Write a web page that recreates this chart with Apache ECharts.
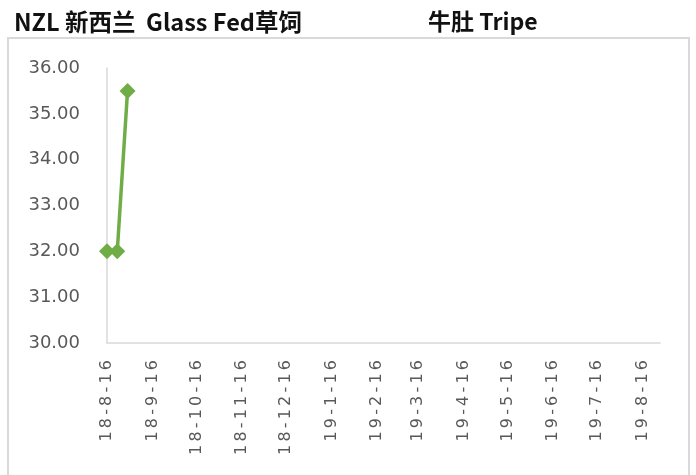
<!DOCTYPE html>
<html>
<head>
<meta charset="utf-8">
<script src="https://cdn.jsdelivr.net/npm/echarts@6/dist/echarts.min.js"></script>
<style>
  html, body { margin: 0; padding: 0; background: #fff; }
  #chart { width: 696px; height: 475px; }
</style>
</head>
<body>
<div id="chart"></div>
<script>
// 数据
var dates = ['2018-08-16', '2018-08-23', '2018-08-30'];
var prices = [32, 32, 35.5];
var tickLabels = ['18-8-16', '18-9-16', '18-10-16', '18-11-16', '18-12-16', '19-1-16',
  '19-2-16', '19-3-16', '19-4-16', '19-5-16', '19-6-16', '19-7-16', '19-8-16'];
var titleLeft = 'NZL 新西兰  Glass Fed草饲';
var titleRight = '牛肚 Tripe';

function toTime(s) {
  var p = s.split('-');
  return new Date(+p[0], +p[1] - 1, +p[2]).getTime();
}
function labelToTime(s) {
  var p = s.split('-');
  return new Date(2000 + +p[0], +p[1] - 1, +p[2]).getTime();
}

var tickTimes = tickLabels.map(labelToTime);
var seriesData = dates.map(function (d, i) { return [toTime(d), prices[i]]; });

var chart = echarts.init(document.getElementById('chart'));
chart.setOption({
  animation: false,
  backgroundColor: '#fff',
  graphic: [
    {
      type: 'rect',
      shape: { x: 8, y: 38, width: 681, height: 445 },
      style: { fill: 'none', stroke: '#d9d9d9', lineWidth: 2 },
      silent: true
    },
    {
      type: 'text', left: 14, top: 10,
      style: { text: titleLeft, fill: '#111', font: 'bold 23.5px "Noto Sans CJK SC"' }
    },
    {
      type: 'text', left: 428, top: 10,
      style: { text: titleRight, fill: '#111', font: 'bold 23px "Noto Sans CJK SC"' }
    }
  ],
  grid: { left: 107, right: 36, top: 68, bottom: 132, containLabel: false },
  xAxis: {
    type: 'value',
    min: toTime('2018-08-16'),
    max: toTime('2019-08-28'),
    splitLine: { show: false },
    axisLine: { lineStyle: { color: '#d9d9d9', width: 1.5 } },
    axisTick: { show: false },
    axisLabel: {
      customValues: tickTimes,
      rotate: 90,
      margin: 17,
      hideOverlap: false,
      color: '#595959',
      fontFamily: 'DejaVu Sans',
      fontSize: 16,
      formatter: function (v) {
        var d = new Date(v);
        var s = (d.getFullYear() % 100) + '-' + (d.getMonth() + 1) + '-' + d.getDate();
        return s.split('').join('\u2009');
      }
    }
  },
  yAxis: {
    type: 'value',
    min: 30,
    max: 36,
    interval: 1,
    splitLine: { show: false },
    axisLine: { show: true, lineStyle: { color: '#d9d9d9', width: 1.5 } },
    axisTick: { show: false },
    axisLabel: {
      margin: 27,
      color: '#595959',
      fontFamily: 'DejaVu Sans',
      fontSize: 18,
      formatter: function (v) { return v.toFixed(2); }
    }
  },
  series: [{
    type: 'line',
    data: seriesData,
    symbol: 'diamond',
    symbolSize: 16,
    lineStyle: { color: '#70AD47', width: 3.5 },
    itemStyle: { color: '#70AD47' }
  }]
});
</script>
</body>
</html>
